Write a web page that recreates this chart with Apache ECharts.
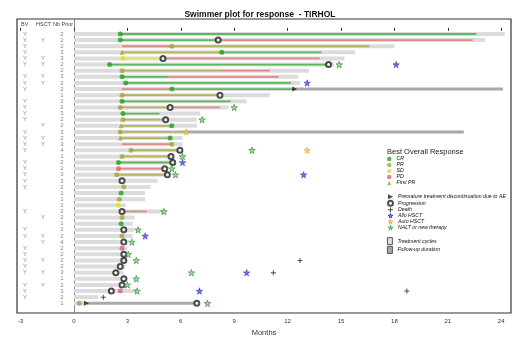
<!DOCTYPE html>
<html>
<head>
<meta charset="utf-8">
<script src="https://cdn.jsdelivr.net/npm/echarts@6/dist/echarts.min.js"></script>
<style>
  html, body { margin: 0; padding: 0; background: #fff; }
  #chart { width: 520px; height: 338px; }
</style>
</head>
<body>
<div id="chart"></div>
<script>
// one entry per patient, top row first
const bv = ['Y','Y','Y','Y','Y','Y','','Y','Y','Y', '','Y','Y','Y','Y','','Y','Y','Y','Y',
  '','Y','Y','Y','Y','Y','','','','Y', '','','Y','Y','','Y','Y','Y','Y','Y', '','Y','Y','Y',''];
const hsct = ['','Y','','','Y','Y','','Y','Y','', '','','','','','Y','','Y','Y','',
  '','','','','','','','','','', 'Y','','','Y','Y','','','Y','','Y', '','Y','','',''];
const nbPrior = [2,2,2,3,3,2,2,3,2,2, 1,2,2,3,2,2,3,2,3,4, 1,2,2,3,3,2,1,1,2,2,
  2,1,2,2,4,2,2,2,2,3, 1,2,3,2,1];
// end of the light grey treatment bar (months)
const treatmentEnd = [24.2,23.1,18.0,15.8,15.2,14.6,13.2,12.6,12.7,12.4,
  11.0,9.7,8.7,7.1,6.9,6.9,6.3,6.1,6.1,6.1,
  5.6,5.7,5.2,5.4,4.7,4.3,4.0,4.0,2.9,5.0,
  3.4,3.3,3.4,3.3,3.0,3.0,2.9,3.0,2.9,2.8,
  3.0,2.8,3.5,1.35,0.7];
// [row, start, end]
const followUp = [[10, 12.4, 24.1], [17, 6.3, 21.9], [45, 0.7, 6.9]];
// [row, start, end, response]
const responseSpans = [
  [1,2.6,22.6,'CR'],
  [2,2.6,8.1,'CR'],[2,8.1,22.4,'PD'],
  [3,2.7,5.5,'PD'],[3,5.5,16.6,'PR'],
  [4,2.7,8.3,'PR'],[4,8.3,13.9,'CR'],
  [5,2.75,5.0,'SD'],[5,5.0,13.8,'PD'],
  [6,2.0,14.3,'CR'],
  [7,2.7,8.2,'PR'],[7,8.2,11.0,'PD'],
  [8,2.7,5.3,'CR'],[8,5.3,11.5,'PD'],
  [9,2.9,12.2,'CR'],
  [10,2.7,5.5,'PD'],[10,5.5,12.4,'CR'],
  [11,2.7,8.2,'PR'],
  [12,2.7,8.8,'CR'],
  [13,2.6,5.4,'PR'],[13,5.4,8.2,'PD'],
  [14,2.75,4.8,'CR'],
  [15,2.75,5.15,'PR'],
  [16,2.65,5.5,'PR'],
  [17,2.6,6.3,'PR'],
  [18,2.6,5.4,'PR'],
  [19,2.7,5.5,'PD'],
  [20,3.2,5.95,'PR'],
  [21,2.7,5.45,'PR'],
  [22,2.5,5.55,'CR'],
  [23,2.5,5.1,'PD'],
  [24,2.4,5.25,'PR'],
  [30,2.7,4.1,'PD']
];
// markers: [row, month]
const crPoints = [[1,2.6],[2,2.6],[4,8.3],[6,2.0],[8,2.7],[9,2.9],[10,5.5],[12,2.7],[14,2.75],[16,5.5],[18,5.4],[22,2.5],[27,2.65],[32,2.65]];
const prPoints = [[3,5.5],[7,2.7],[11,2.7],[13,2.6],[15,2.75],[17,2.6],[19,5.5],[20,3.2],[21,2.7],[24,2.4],[26,2.8],[28,2.55],[31,2.7],[34,2.7],[45,0.3]];
const sdPoints = [[5,2.75],[29,2.5]];
const pdPoints = [[23,2.5],[36,2.7],[43,2.6]];
const firstPrPoints = [[4,2.7],[16,2.65],[18,2.6]];
const discontinuation = [[10,12.4],[45,0.7]];
const progression = [[2,8.1],[5,5.0],[6,14.3],[11,8.2],[13,5.4],[15,5.15],[20,5.95],[21,5.45],[22,5.55],[23,5.1],[24,5.25],
  [25,2.7],[30,2.7],[33,2.8],[35,2.8],[37,2.8],[38,2.8],[39,2.6],[40,2.35],[41,2.8],[42,2.7],[43,2.1],[45,6.9]];
const deaths = [[38,12.7],[40,11.2],[43,18.7],[44,1.65]];
const alloHsct = [[6,18.1],[9,13.1],[22,6.1],[24,12.9],[34,4.0],[40,9.7],[43,7.05]];
const autoHsct = [[17,6.3],[20,13.1]];
const nalt = [[6,14.9],[13,9.0],[15,7.2],[20,10.0],[21,6.1],[23,5.5],[24,5.7],[30,5.05],[33,3.6],[35,3.25],[37,3.05],
  [38,3.5],[40,6.6],[41,3.5],[42,3.0],[43,3.55],[45,7.5]];
const monthTicks = [-3,0,3,6,9,12,15,18,21,24];

const FONT = 'Liberation Sans, Arial, sans-serif';
const responseColors = { CR: '#5cb85c', PR: '#b3b45c', SD: '#e4e46a', PD: '#dc8a8a' };
const responseTypes = ['CR','PR','SD','PD'];
const STAR = 'path://M50,0L61,35L98,35L68,57L79,91L50,70L21,91L32,57L2,35L39,35Z';
const PLUS = 'path://M4,0h2v4h4v2h-4v4h-2v-4h-4v-2h4z';
const ARROW = 'path://M0,0L10,5L0,10Z';

var myChart = echarts.init(document.getElementById('chart'));

function toXY(points) {
  return points.map((p) => [p[1], p[0]]);
}

function spanRenderer(thick, colorOf) {
  return function (params, api) {
    let a = api.coord([api.value(0), api.value(2)]);
    let b = api.coord([api.value(1), api.value(2)]);
    return {
      type: 'rect',
      shape: { x: a[0], y: a[1] - thick / 2, width: b[0] - a[0], height: thick },
      style: { fill: colorOf(api) },
    };
  };
}

function textColumn(name, x, values) {
  return {
    type: 'scatter', name: name, silent: true, symbolSize: 0.01,
    itemStyle: { color: 'transparent' },
    data: values.map((v, i) => [x, i + 1, String(v)]),
    label: {
      show: true, position: 'inside', formatter: (p) => p.data[2],
      fontSize: 6, color: '#666', fontFamily: FONT,
    },
    z: 5,
  };
}

function markers(name, points, symbol, size, style) {
  return {
    type: 'scatter', name: name, data: toXY(points), symbol: symbol,
    symbolSize: size, itemStyle: style, silent: true, z: 4,
  };
}

// small legend entries, drawn with their own icon
function legendItem(name, icon, color, border) {
  return {
    name: name, icon: icon,
    itemStyle: { color: color, borderColor: border || color, borderWidth: border ? 0.8 : 0 },
  };
}

const legendText = { fontSize: 5.2, fontStyle: 'italic', color: '#111', fontFamily: FONT, lineHeight: 6 };

var option = {
  animation: false,
  title: {
    text: 'Swimmer plot for response  - TIRHOL',
    left: 'center', top: 5,
    textStyle: { fontSize: 8.5, fontWeight: 'bold', color: '#111', fontFamily: FONT },
  },
  grid: {
    left: 17, right: 9, top: 19, bottom: 25,
    outerBoundsMode: 'none', containLabel: false,
    show: true, borderColor: '#333', borderWidth: 1.2,
  },
  xAxis: {
    type: 'value', min: -3.2, max: 24.55,
    axisLine: { show: false },
    axisTick: { show: true, customValues: monthTicks, length: 3, lineStyle: { color: '#333' } },
    axisLabel: { customValues: monthTicks, fontSize: 6, color: '#333', margin: 5, fontFamily: FONT },
    splitLine: { show: false },
    name: 'Months', nameLocation: 'middle', nameGap: 14,
    nameTextStyle: { fontSize: 7.5, color: '#333', fontFamily: FONT },
  },
  yAxis: {
    type: 'value', inverse: true, min: -1.45, max: 46.59,
    axisLine: { show: true, onZero: true, lineStyle: { color: '#888', width: 1 } },
    axisTick: { show: false },
    axisLabel: { show: false },
    splitLine: { show: false },
    name: 'Patients', nameLocation: 'middle', nameGap: 62,
    nameTextStyle: { fontSize: 7.5, color: '#333', fontFamily: FONT },
  },
  legend: [
    {
      data: [
        legendItem('CR', 'circle', '#22a322'),
        legendItem('PR', 'circle', '#a3a83a'),
        legendItem('SD', 'circle', '#e0e02a'),
        legendItem('PD', 'circle', '#e06070'),
        legendItem('First PR', 'triangle', '#a3a83a'),
      ],
      left: 387, top: 156, orient: 'vertical', padding: 0,
      itemWidth: 4.5, itemHeight: 4.5, itemGap: 0, selectedMode: false, textStyle: legendText,
    },
    {
      data: [
        legendItem('Premature treatment discontinuation due to AE', ARROW, '#222'),
        legendItem('Progression', 'emptyCircle', '#222', '#222'),
        legendItem('Death', PLUS, '#222'),
        legendItem('Allo HSCT', STAR, '#4d4de6', '#1a1ab3'),
        legendItem('Auto HSCT', STAR, '#f5c04a', '#e0a020'),
        legendItem('NALT or new therapy', STAR, '#8fcf8f', '#2a8a2a'),
      ],
      left: 387, top: 193.7, orient: 'vertical', padding: 0,
      itemWidth: 5, itemHeight: 5, itemGap: 0, selectedMode: false, textStyle: legendText,
    },
    {
      data: [
        legendItem('Treatment cycles', 'rect', '#dcdcdc', '#333'),
        legendItem('Follow-up duration', 'rect', '#a8a8a8', '#333'),
      ],
      left: 387, top: 237.2, orient: 'vertical', padding: 0,
      itemWidth: 5, itemHeight: 7, itemGap: 1, selectedMode: false, textStyle: legendText,
    },
  ],
  graphic: [
    { type: 'text', left: 21, top: 21.5, style: { text: 'BV', fontSize: 5.5, fill: '#444', fontFamily: FONT } },
    { type: 'text', left: 36, top: 21.5, style: { text: 'HSCT', fontSize: 5.5, fill: '#444', fontFamily: FONT } },
    { type: 'text', left: 53, top: 21.5, style: { text: 'Nb Prior', fontSize: 5.5, fill: '#444', fontFamily: FONT } },
    { type: 'text', left: 387, top: 148, style: { text: 'Best Overall Response', fontSize: 7.5, fill: '#222', fontFamily: FONT } },
  ],
  series: [
    {
      type: 'custom', name: 'Treatment cycles', silent: true, z: 1,
      itemStyle: { color: '#dcdcdc' },
      renderItem: spanRenderer(4, () => '#dcdcdc'),
      encode: { x: [0, 1], y: 2 },
      data: treatmentEnd.map((e, i) => [0, e, i + 1]),
    },
    {
      type: 'custom', name: 'Follow-up duration', silent: true, z: 2,
      itemStyle: { color: '#a8a8a8' },
      renderItem: spanRenderer(3, () => '#a8a8a8'),
      encode: { x: [0, 1], y: 2 },
      data: followUp.map((f) => [f[1], f[2], f[0]]),
    },
    {
      type: 'custom', name: 'response', silent: true, z: 3,
      renderItem: spanRenderer(1.8, (api) => responseColors[responseTypes[api.value(3)]]),
      encode: { x: [0, 1], y: 2 },
      data: responseSpans.map((s) => [s[1], s[2], s[0], responseTypes.indexOf(s[3])]),
    },
    textColumn('BV', -2.75, bv),
    textColumn('HSCT', -1.74, hsct),
    textColumn('Nb Prior', -0.67, nbPrior),
    markers('CR', crPoints, 'circle', 5, { color: '#22a322' }),
    markers('PR', prPoints, 'circle', 5, { color: '#a3a83a' }),
    markers('SD', sdPoints, 'circle', 5, { color: '#e0e02a' }),
    markers('PD', pdPoints, 'circle', 5, { color: '#e06070' }),
    markers('First PR', firstPrPoints, 'triangle', 5, { color: '#a3a83a' }),
    markers('Premature treatment discontinuation due to AE', discontinuation, ARROW, 5, { color: '#222' }),
    markers('Progression', progression, 'emptyCircle', 5, { color: '#222', borderWidth: 1.3 }),
    markers('Death', deaths, PLUS, 5, { color: '#222' }),
    markers('Allo HSCT', alloHsct, STAR, 6.5, { color: '#4d4de6', borderColor: '#1a1ab3', borderWidth: 0.6 }),
    markers('Auto HSCT', autoHsct, STAR, 6.5, { color: '#f5c04a', borderColor: '#e0a020', borderWidth: 0.6 }),
    markers('NALT or new therapy', nalt, STAR, 6.5, { color: '#8fcf8f', borderColor: '#2a8a2a', borderWidth: 0.8 }),
  ],
};

myChart.setOption(option);
</script>
</body>
</html>
